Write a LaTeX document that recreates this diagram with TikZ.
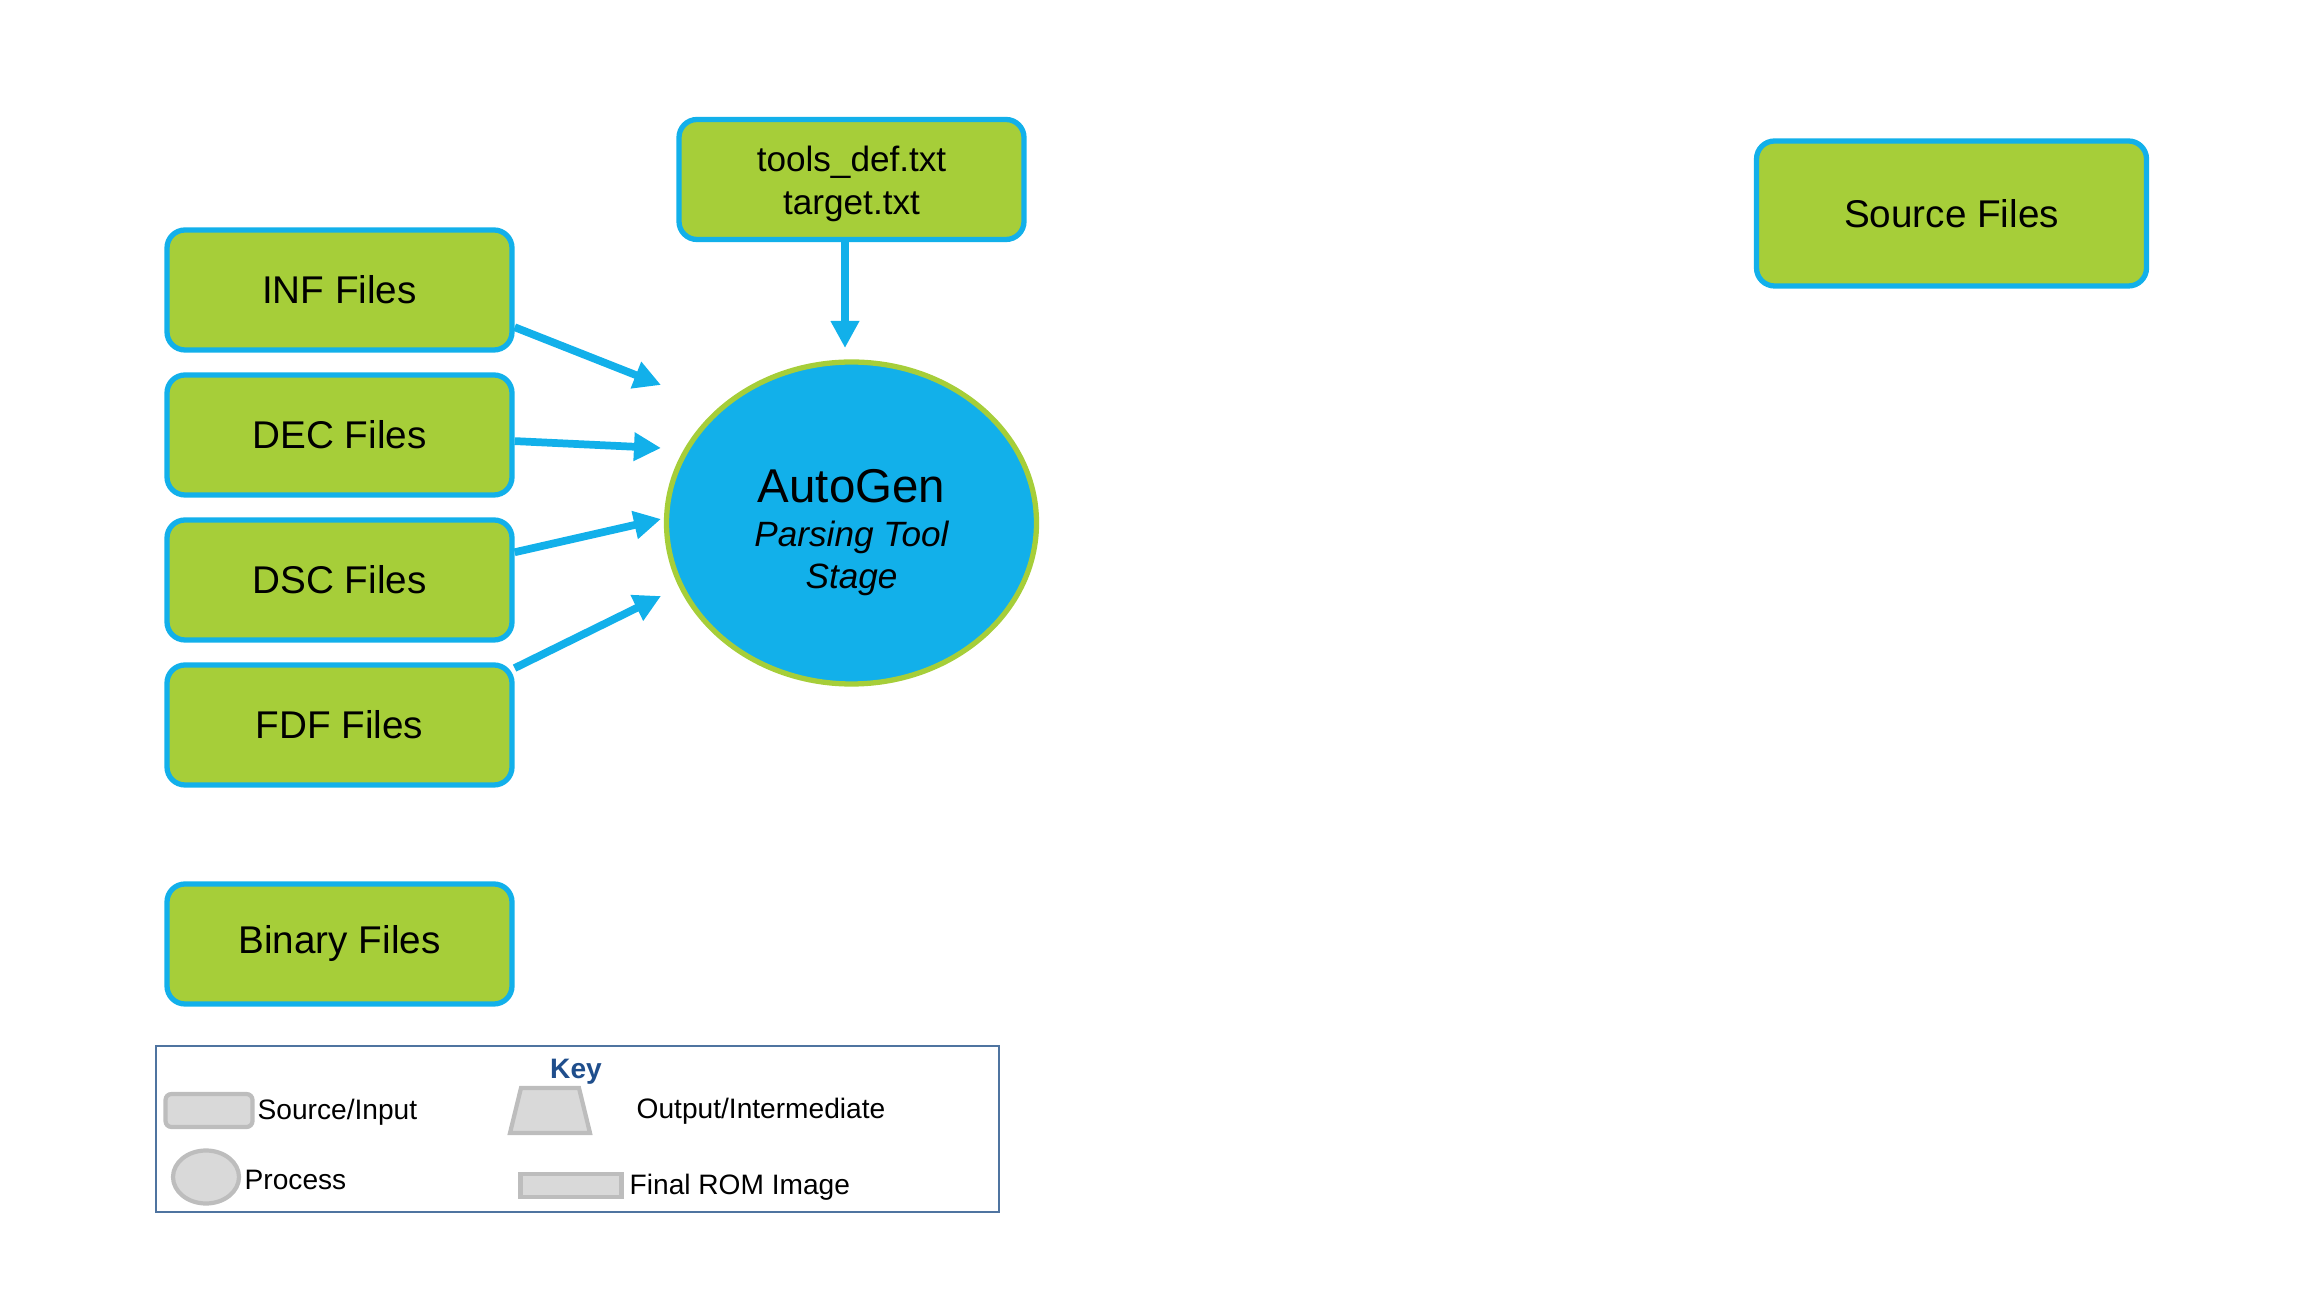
\documentclass[tikz,border=0pt]{standalone}
\usepackage{fontspec}
\setmainfont{Liberation Sans}
\usepackage{tikz}
\usetikzlibrary{arrows.meta,shapes.geometric,positioning}

\definecolor{leafgreen}{HTML}{A6CE39}
\definecolor{skyblue}{HTML}{12B0EA}
\definecolor{keygray}{HTML}{D9D9D9}
\definecolor{keyedge}{HTML}{BDBDBD}
\definecolor{keynavy}{HTML}{1F4E8C}
\definecolor{framegray}{HTML}{4F74A0}

\begin{document}
\begin{tikzpicture}[>={Triangle[length=0.27cm, width=0.27cm]}, node distance=1.45cm,
    srcbox/.style={rectangle, draw=skyblue, line width=1.5pt, fill=leafgreen, rounded corners=0.18cm, minimum width=3.45cm, minimum height=1.2cm, font=\fontsize{11}{13}\selectfont},
    proc/.style={ellipse, draw=leafgreen, line width=1.5pt, fill=skyblue, minimum width=3.7cm, minimum height=3.22cm, align=center},
    line/.style={draw=skyblue, ->, line width=2.2pt},
    swatch/.style={draw=keyedge, fill=keygray, line width=1.2pt, inner sep=0pt},
    keytext/.style={font=\fontsize{8}{10}\selectfont, anchor=west, inner sep=0pt}]

    \useasboundingbox (0,0) rectangle (23.04,12.96);

    \node [srcbox] (inf) at (3.395,10.06) {INF Files};
    \node [srcbox, below of=inf] (dec) {DEC Files};
    \node [srcbox, below of=dec] (dsc) {DSC Files};
    \node [srcbox, below of=dsc] (fdf) {FDF Files};
    \node [srcbox, below of=fdf, node distance=2.19cm] (bin) {Binary Files};
    \node [srcbox, align=center, font=\fontsize{10}{12.2}\selectfont] (tools) at (8.515,11.165) {\rule{0pt}{10pt}tools\_def.txt\\target.txt};
    \node [srcbox, minimum width=3.9cm, minimum height=1.45cm] (src) at (19.515,10.825) {Source Files};

    \node [proc, below of=tools, node distance=3.435cm] (ag) {\rule{0pt}{15pt}{\fontsize{13.5}{16}\selectfont AutoGen}\\[0.5pt]
        {\fontsize{10}{11.7}\selectfont\itshape Parsing Tool}\\
        {\fontsize{10}{11.2}\selectfont\itshape Stage}};

    % arrow ends stop short of the ellipse
    \coordinate (infT) at (6.61,9.11);
    \coordinate (decT) at (6.61,8.48);
    \coordinate (dscT) at (6.61,7.77);
    \coordinate (fdfT) at (6.61,7.00);
    \coordinate (agT) at (8.45,9.48);

    \path [line] (inf.-12) -- (infT);
    \path [line] (dec.-2) -- (decT);
    \path [line] (dsc.9) -- (dscT);
    \path [line] (fdf.18) -- (fdfT);
    \path [line] (tools.-96) -- (agT);

    % key
    \node [draw=framegray, line width=0.6pt, minimum width=8.43cm, minimum height=1.66cm, inner sep=0pt] (key) at (5.775,1.67) {};
    \node [font=\fontsize{8}{10}\selectfont\bfseries, text=keynavy] (keyt) at (5.76,2.24) {Key};
    \node [swatch, rounded corners=0.06cm, minimum width=0.87cm, minimum height=0.33cm] (kin) at (2.09,1.855) {};
    \node [keytext] (kint) at (2.57,1.84) {Source/Input};
    \node [swatch, ellipse, minimum width=0.66cm, minimum height=0.53cm] (kproc) at (2.06,1.19) {};
    \node [keytext] (kproct) at (2.44,1.16) {Process};
    \draw [swatch] (5.10,1.63) -- (5.90,1.63) -- (5.79,2.08) -- (5.21,2.08) -- cycle;
    \node [keytext] (koutt) at (6.36,1.85) {Output/Intermediate};
    \node [swatch, minimum width=1.01cm, minimum height=0.23cm] (krom) at (5.71,1.105) {};
    \node [keytext] (kromt) at (6.29,1.09) {Final ROM Image};
\end{tikzpicture}
\end{document}
